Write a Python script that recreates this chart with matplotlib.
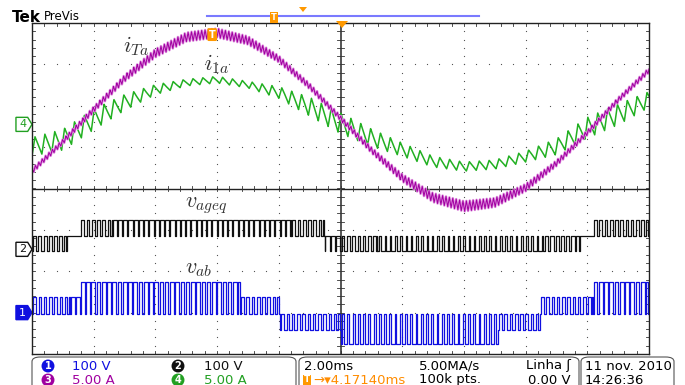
import numpy as np
import matplotlib
matplotlib.use('Agg')
import matplotlib.pyplot as plt
from matplotlib.patches import Polygon, FancyBboxPatch

plt.rcParams['mathtext.fontset'] = 'cm'

# --- data (divisions: x 0..10, y -4..4) ---
sample_div = [0.0, 0.5, 1.0, 1.5, 2.0, 2.5, 3.0, 3.5, 4.0, 4.5, 5.0,
              5.5, 6.0, 6.5, 7.0, 7.5, 8.0, 8.5, 9.0, 9.5, 10.0]

# ch3 (magenta) i_Ta, centre of the trace and ripple peak-to-peak
i_ta = [0.42, 1.13, 1.91, 2.66, 3.27, 3.66, 3.76, 3.58, 3.13, 2.47, 1.70,
        0.93, 0.26, -0.22, -0.43, -0.34, 0.02, 0.61, 1.35, 2.14, 2.86]
i_ta_ripple = [0.12, 0.12, 0.14, 0.16, 0.20, 0.22, 0.22, 0.20, 0.16, 0.14, 0.12,
               0.14, 0.18, 0.22, 0.25, 0.22, 0.18, 0.14, 0.12, 0.12, 0.12]

# ch4 (green) i_1a
i_1a = [1.01, 1.18, 1.67, 2.08, 2.39, 2.56, 2.63, 2.51, 2.32, 1.98, 1.58,
        1.23, 0.94, 0.65, 0.53, 0.58, 0.77, 1.01, 1.47, 1.79, 2.15]
i_1a_ripple = [0.45, 0.50, 0.50, 0.38, 0.24, 0.16, 0.16, 0.16, 0.28, 0.45, 0.50,
               0.42, 0.32, 0.26, 0.22, 0.22, 0.26, 0.38, 0.50, 0.50, 0.38]

# ch2 (black) v_ageq : levels and switching segments
blk_levels = [-1.52, -1.16, -0.75]
blk_x0 = [0.00, 0.57, 0.78, 1.30, 4.20, 4.75, 5.00, 5.60, 8.30, 8.88, 9.09]
blk_x1 = [0.57, 0.78, 1.30, 4.20, 4.75, 5.00, 5.60, 8.30, 8.88, 9.09, 10.0]
blk_lo = [0, 1, 1, 1, 1, 0, 0, 0, 0, 1, 1]
blk_hi = [1, 1, 2, 2, 2, 1, 1, 1, 1, 1, 2]
blk_duty = [0.55, 1.0, 0.5, 0.8, 0.5, 0.9, 0.5, 0.3, 0.6, 1.0, 0.5]

# ch1 (blue) v_ab
blu_levels = [-3.77, -3.41, -3.04, -2.63, -2.27]
blu_x0 = [0.00, 0.62, 0.78, 3.37, 4.02, 5.00, 7.55, 8.23, 9.09]
blu_x1 = [0.62, 0.78, 3.37, 4.02, 5.00, 7.55, 8.23, 9.09, 10.0]
blu_lo = [2, 2, 2, 2, 1, 0, 1, 2, 2]
blu_hi = [3, 3, 4, 3, 2, 2, 2, 3, 4]
blu_duty = [0.5, 0.9, 0.7, 0.5, 0.5, 0.35, 0.5, 0.5, 0.7]

sw_period = 0.085


def pwm(x0s, x1s, los, his, duties, levels, period):
    xs, ys = [], []
    for a, b, lo, hi, d in zip(x0s, x1s, los, his, duties):
        k = a
        while k < b - 1e-9:
            e = min(k + period, b)
            w = e - k
            h0 = k + w * (1 - d) / 2
            h1 = k + w * (1 + d) / 2
            xs += [k, h0, h0, h1, h1, e]
            ys += [levels[lo], levels[lo], levels[hi], levels[hi], levels[lo], levels[lo]]
            k = e
    return xs, ys


def fx(px):
    return px / 685


def fy(py):
    return 1 - py / 385


fig = plt.figure(figsize=(6.85, 3.85), dpi=100)
ax = fig.add_axes([fx(32), fy(354), 617 / 685, 331 / 385])
ax.set_xlim(0, 10)
ax.set_ylim(-4, 4)
ax.set_xticks([])
ax.set_yticks([])
for s in ax.spines.values():
    s.set_color('#222222')
    s.set_linewidth(1.0)

# graticule dots
for xv in [1, 2, 3, 4, 6, 7, 8, 9]:
    yy = np.arange(-4, 4.01, 0.2)
    ax.plot([xv] * len(yy), yy, ls='none', marker='s', ms=0.8, color='#555555', mew=0)
for yv in [-3, -2, -1, 1, 2, 3]:
    xx = np.arange(0, 10.01, 0.2)
    ax.plot(xx, [yv] * len(xx), ls='none', marker='s', ms=0.8, color='#555555', mew=0)

ax.axhline(0, color='#222222', lw=1.0)
ax.axvline(5, color='#555555', lw=1.4)
# minor ticks on centre lines and border
for xv in np.arange(0, 10.01, 0.2):
    ax.plot([xv, xv], [-0.07, 0.07], color='#333333', lw=0.6)
    ax.plot([xv, xv], [4, 3.93], color='#333333', lw=0.6)
    ax.plot([xv, xv], [-4, -3.93], color='#333333', lw=0.6)
for yv in np.arange(-4, 4.01, 0.2):
    ax.plot([4.95, 5.05], [yv, yv], color='#333333', lw=0.6)
    ax.plot([0, 0.05], [yv, yv], color='#333333', lw=0.6)
    ax.plot([10, 9.95], [yv, yv], color='#333333', lw=0.6)

# currents
t = np.linspace(0, 10, 8001)
ph = (t / 0.055) % 1
tri = 2 * np.abs(2 * ph - 1) - 1
y_ta = np.interp(t, sample_div, i_ta) + np.interp(t, sample_div, i_ta_ripple) / 2 * tri
ph2 = (t / 0.16) % 1
r = 0.3
saw = np.where(ph2 < r, -1 + 2 * ph2 / r, 1 - 2 * (ph2 - r) / (1 - r))
y_1a = np.interp(t, sample_div, i_1a) + np.interp(t, sample_div, i_1a_ripple) / 2 * saw

ax.plot(t, y_1a, color='#22b022', lw=1.1)
ax.plot(t, y_ta, color='#e090e0', lw=1.8)
ax.plot(t, y_ta, color='#a000a0', lw=0.7)

bx, by = pwm(blk_x0, blk_x1, blk_lo, blk_hi, blk_duty, blk_levels, sw_period)
ax.plot(bx, by, color='#111111', lw=0.9)
ux, uy = pwm(blu_x0, blu_x1, blu_lo, blu_hi, blu_duty, blu_levels, sw_period)
ax.plot(ux, uy, color='#1010e0', lw=0.9)

# labels
lab = dict(color='#333333', fontsize=16, ha='left', va='center')
ax.text(1.48, 3.45, r'$i_{Ta}$', **lab)
ax.text(2.78, 3.0, r'$i_{1a}$', **lab)
ax.text(2.48, -0.42, r'$v_{ageq}$', **lab)
ax.text(2.48, -1.95, r'$v_{ab}$', **lab)

# trigger marker on trace
ax.text(2.92, 3.72, 'T', color='white', fontsize=7, fontweight='bold', ha='center', va='center',
        bbox=dict(boxstyle='round,pad=0.15', fc='#ff9900', ec='none'))


# channel markers
def marker(yv, label, fc, ec, tc):
    pts = [(-0.26, yv + 0.17), (-0.07, yv + 0.17), (0, yv), (-0.07, yv - 0.17), (-0.26, yv - 0.17)]
    ax.add_patch(Polygon(pts, closed=True, fc=fc, ec=ec, lw=1.0, clip_on=False))
    ax.text(-0.15, yv, label, color=tc, fontsize=8, ha='center', va='center', clip_on=False)


marker(1.55, '4', 'white', '#22a022', '#22a022')
marker(-1.47, '2', 'white', '#111111', '#111111')
marker(-3.0, '1', '#1010e0', '#1010e0', 'white')

# header
fig.text(fx(12), fy(17), 'Tek', fontsize=11, fontweight='bold', va='center')
fig.text(fx(44), fy(16), 'PreVis', fontsize=8.5, va='center')
for a, b in [(207, 234), (236, 370), (372, 479)]:
    fig.add_artist(plt.Line2D([fx(a), fx(b)], [fy(16), fy(16)], color='#7a7aff', lw=1.5))
fig.text(fx(274), fy(17), 'T', color='white', fontsize=6, fontweight='bold', ha='center', va='center',
         bbox=dict(boxstyle='square,pad=0.12', fc='#ff9900', ec='none'))
fig.add_artist(Polygon([(fx(299), fy(7)), (fx(307), fy(7)), (fx(303), fy(12))], closed=True,
                       fc='#ff9900', ec='none', transform=fig.transFigure))
fig.add_artist(Polygon([(fx(336), fy(21)), (fx(348), fy(21)), (fx(342), fy(28))], closed=True,
                       fc='#ff9900', ec='none', transform=fig.transFigure))

# status bar
for a, b in [(32, 296), (299, 579), (581, 674)]:
    fig.add_artist(FancyBboxPatch((fx(a), fy(400)), fx(b) - fx(a), fy(357) - fy(400),
                                  boxstyle='round,pad=0,rounding_size=0.012', fc='white',
                                  ec='#555555', lw=0.8, transform=fig.transFigure))

fs = 9.5
row1, row2 = fy(366), fy(380)
for px, py, lbl, c in [(48, row1, '1', '#1010e0'), (178, row1, '2', '#111111'),
                       (48, row2, '3', '#a000a0'), (178, row2, '4', '#22a022')]:
    fig.text(fx(px), py, lbl, color='white', fontsize=7, fontweight='bold', ha='center', va='center',
             bbox=dict(boxstyle='circle,pad=0.15', fc=c, ec='none'))
fig.text(fx(72), row1, '100 V', color='#1010e0', fontsize=fs, va='center')
fig.text(fx(204), row1, '100 V', color='#111111', fontsize=fs, va='center')
fig.text(fx(72), row2, '5.00 A', color='#a000a0', fontsize=fs, va='center')
fig.text(fx(204), row2, '5.00 A', color='#22a022', fontsize=fs, va='center')

fig.text(fx(304), row1, '2.00ms', fontsize=fs, va='center')
fig.text(fx(419), row1, '5.00MA/s', fontsize=fs, va='center')
fig.text(fx(571), row1, 'Linha ʃ', fontsize=fs, va='center', ha='right')
fig.text(fx(304), row2, 'T', color='white', fontsize=6.5, fontweight='bold', va='center',
         bbox=dict(boxstyle='square,pad=0.1', fc='#ff9900', ec='none'))
fig.text(fx(313), row2, '→▾4.17140ms', color='#ff8c00', fontsize=fs, va='center')
fig.text(fx(419), row2, '100k pts.', fontsize=fs, va='center')
fig.text(fx(571), row2, '0.00 V', fontsize=fs, va='center', ha='right')

fig.text(fx(585), row1, '11 nov. 2010', fontsize=fs, va='center')
fig.text(fx(585), row2, '14:26:36', fontsize=fs, va='center')

fig.savefig('out.png', dpi=100)
